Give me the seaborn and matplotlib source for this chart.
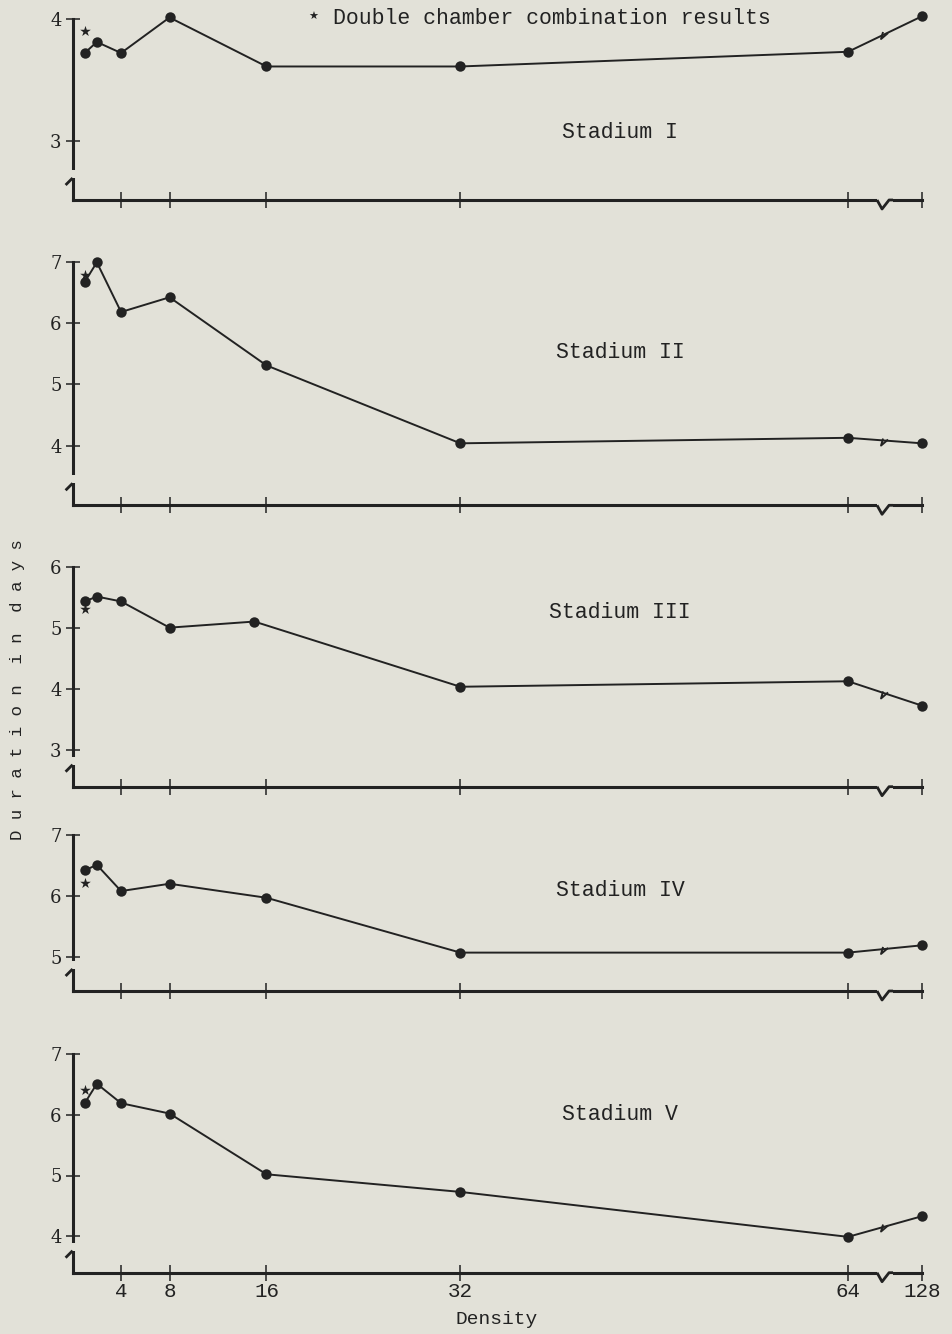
import numpy as np
import matplotlib.pyplot as plt
import matplotlib.transforms as mtransforms
from matplotlib.patches import Rectangle
import seaborn as sns

# density (x) and duration in days (y) per stadium
density = [1, 2, 4, 8, 16, 32, 64, 128]
density_iii = [1, 2, 4, 8, 15, 32, 64, 128]

stadium_i = [3.72, 3.81, 3.72, 4.01, 3.61, 3.61, 3.73, 4.02]
stadium_ii = [6.67, 6.99, 6.18, 6.42, 5.31, 4.04, 4.13, 4.04]
stadium_iii = [5.43, 5.51, 5.43, 5.00, 5.10, 4.03, 4.12, 3.72]
stadium_iv = [6.42, 6.51, 6.08, 6.20, 5.97, 5.07, 5.07, 5.19]
stadium_v = [6.19, 6.51, 6.19, 6.02, 5.02, 4.73, 3.99, 4.33]

# double chamber combination results (density 1)
double_chamber = [3.90, 6.78, 5.30, 6.22, 6.41]

names = ["Stadium I", "Stadium II", "Stadium III", "Stadium IV", "Stadium V"]
xticks = [4, 8, 16, 32, 64, 128]
yticks = [[3, 4], [4, 5, 6, 7], [3, 4, 5, 6], [5, 6, 7], [4, 5, 6, 7]]
ylims = [(2.52, 4.0), (3.03, 7.0), (2.39, 6.0), (4.44, 7.0), (3.40, 7.0)]

series = [
    (density, stadium_i),
    (density, stadium_ii),
    (density_iii, stadium_iii),
    (density, stadium_iv),
    (density, stadium_v),
]

BG = "#e2e1d8"
INK = "#222222"
MONO = ["Liberation Mono", "DejaVu Sans Mono"]

sns.set_style("ticks")
plt.rcParams["font.family"] = MONO

W, H = 952, 1334
# panel frames in pixels: (top, bottom)
frames = [(18.7, 200), (261.7, 505.3), (566.7, 786.7), (835, 991), (1054, 1272.7)]
left_px, right_px = 72.6, 922

# 128 is drawn after a break: compress the 64..128 stretch
K = 6.1 / 64


def fwd(x):
    x = np.asarray(x, float)
    return np.where(x <= 64, x, 64 + (x - 64) * K)


def inv(x):
    x = np.asarray(x, float)
    return np.where(x <= 64, x, 64 + (x - 64) / K)


fig = plt.figure(figsize=(W / 100, H / 100), dpi=100, facecolor=BG)


def offset_path(ax, xd, yd, pts, lw, gap=None):
    tr = fig.dpi_scale_trans + mtransforms.ScaledTranslation(xd, yd, ax.transData)
    if gap is not None:
        (x0, y0, w, h) = gap
        ax.add_patch(Rectangle((x0 / 100, y0 / 100), w / 100, h / 100, transform=tr,
                               facecolor=BG, edgecolor="none", zorder=5, clip_on=False))
    arr = np.array(pts, float) / 100
    ax.plot(arr[:, 0], arr[:, 1], transform=tr, color=INK, lw=lw,
            zorder=6, clip_on=False, solid_capstyle="butt")


for i, ((xs, ys), star, name, yt, yl, (top, bot)) in enumerate(
        zip(series, double_chamber, names, yticks, ylims, frames)):
    ax = fig.add_axes([left_px / W, 1 - bot / H, (right_px - left_px) / W, (bot - top) / H])
    ax.set_facecolor(BG)
    ax.set_xscale("function", functions=(fwd, inv))

    sns.lineplot(x=xs, y=ys, ax=ax, color=INK, lw=1.4, marker="o",
                 markersize=7.5, markeredgewidth=0, sort=False)
    sns.scatterplot(x=[1], y=[star], ax=ax, marker="*", s=65, color=INK, linewidth=0)
    for ln in ax.lines:
        ln.set_clip_on(False)
    for c in ax.collections:
        c.set_clip_on(False)

    ax.set_xlim(0, 128)
    ax.set_ylim(*yl)
    ax.autoscale(False)

    sns.despine(ax=ax)
    for s in ("left", "bottom"):
        ax.spines[s].set_linewidth(2.2)
        ax.spines[s].set_color(INK)

    ax.set_xticks(xticks)
    ax.set_yticks(yt)
    ax.set_yticklabels([str(v) for v in yt], family="DejaVu Serif", fontsize=13, color=INK)
    ax.tick_params(axis="y", direction="inout", length=10, width=1.1, color=INK, pad=3)
    ax.tick_params(axis="x", direction="inout", length=12, width=1.1, color=INK, pad=1)
    if i == len(series) - 1:
        ax.set_xticklabels([str(v) for v in xticks], fontsize=15, color=INK)
    else:
        ax.tick_params(axis="x", labelbottom=False)
    ax.set_xlabel("")
    ax.set_ylabel("")
    ax.minorticks_off()

    ymin = yl[0]
    # break on the x axis between 64 and 128
    offset_path(ax, 96, ymin, [(-8, 0), (-3, -9), (4, 0), (8, 0)], 2.0, gap=(-8, -4, 16, 8))
    # break on the y axis
    offset_path(ax, 0, ymin, [(-7, 15), (0, 22)], 2.0, gap=(-3, 22, 6, 8))
    # break on the data line
    ymid = (ys[6] + ys[7]) / 2
    offset_path(ax, 96, ymid, [(-2, 2), (-4, -5), (3, 1)], 1.4)

    cy = [132, 352, 613, 890, 1114][i]
    fig.text(620 / W, 1 - cy / H, name, ha="center", va="center", fontsize=15.5, color=INK)

fig.text(313 / W, 1 - 17 / H, "★", ha="center", va="center", fontsize=8, color=INK,
         family=["DejaVu Sans"])
fig.text(333 / W, 1 - 18 / H, "Double chamber combination results", ha="left", va="center",
         fontsize=15.5, color=INK)
fig.text(18 / W, 1 - 690 / H, "D u r a t i o n  i n  d a y s", rotation=90,
         ha="center", va="center", fontsize=12.5, color=INK)
fig.text(497 / W, 1 - 1320 / H, "Density", ha="center", va="center", fontsize=14, color=INK)

fig.savefig("out.png", dpi=100, facecolor=BG)
